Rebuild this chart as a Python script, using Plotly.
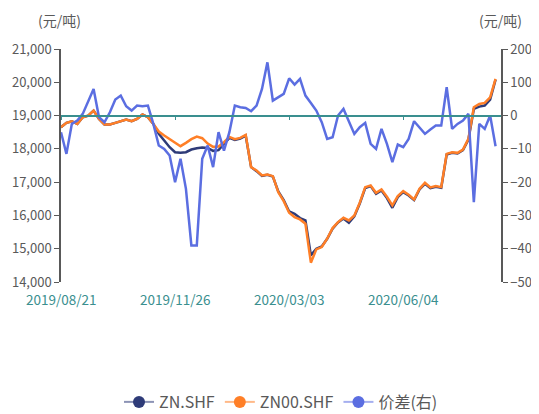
import pandas as pd
import plotly.graph_objects as go

# ---------------- data ----------------
holidays = ['2019-09-13', '2019-10-01', '2019-10-02', '2019-10-03', '2019-10-04', '2019-10-07',
            '2020-01-01', '2020-01-24', '2020-01-27', '2020-01-28', '2020-01-29', '2020-01-30',
            '2020-01-31', '2020-04-06', '2020-05-01', '2020-05-04', '2020-05-05',
            '2020-06-25', '2020-06-26']
trading_days = pd.bdate_range('2019-08-21', periods=241, freq='C', holidays=holidays)
dates = [d.strftime('%Y/%m/%d') for d in trading_days[::3]]

tick_labels = ['2019/08/21', '2019/11/26', '2020/03/03', '2020/06/04']

zn00_shf = [18650, 18780, 18830, 18750, 18950, 19000, 19150, 18900, 18730, 18730,
            18780, 18830, 18880, 18830, 18900, 19030, 18950, 18750, 18520, 18400,
            18290, 18180, 18080, 18180, 18290, 18370, 18320, 18160, 18060, 18070,
            18200, 18360, 18290, 18330, 18420, 17450, 17350, 17200, 17230, 17180,
            16700, 16430, 16080, 15950, 15880, 15750, 14580, 14980, 15050, 15300,
            15620, 15800, 15930, 15850, 16000, 16380, 16850, 16900, 16680, 16780,
            16560, 16300, 16580, 16730, 16620, 16480, 16800, 16980, 16840, 16880,
            16850, 17850, 17900, 17880, 17980, 18300, 19250, 19350, 19380, 19550,
            20100]

zn_shf = [18650, 18780, 18830, 18750, 18950, 19000, 19150, 18900, 18730, 18730,
          18780, 18830, 18880, 18830, 18900, 19030, 18950, 18750, 18450, 18250,
          18050, 17900, 17880, 17900, 17980, 18020, 18040, 18030, 17940, 17960,
          18150, 18330, 18270, 18310, 18400, 17450, 17330, 17190, 17220, 17170,
          16720, 16460, 16120, 16050, 15920, 15850, 14800, 15000, 15070, 15300,
          15600, 15790, 15910, 15780, 15970, 16360, 16820, 16880, 16650, 16750,
          16520, 16230, 16550, 16700, 16600, 16460, 16780, 16950, 16820, 16860,
          16830, 17830, 17880, 17860, 17960, 18280, 19200, 19270, 19300, 19480,
          20080]

spread = [-50, -115, -25, -15, 5, 40, 80, -5, -20, 10,
          48, 60, 28, 15, 30, 28, 30, -25, -90, -100,
          -120, -200, -130, -220, -390, -390, -130, -90, -155, -50,
          -105, -50, 30, 25, 23, 13, 30, 80, 160, 45,
          55, 65, 112, 93, 110, 60, 38, 15, -20, -70,
          -65, 0, 20, -20, -55, -35, -22, -85, -100, -40,
          -85, -140, -87, -95, -70, -17, -35, -55, -42, -30,
          -30, 85, -40, -25, -15, 5, -260, -25, -40, 0,
          -92]

left_range = [14000, 21000]
right_range = [-500, 200]

# ---------------- styles ----------------
C_ZN = '#2E3B78'
C_ZN00 = '#FF7F27'
C_SPREAD = '#5B6EE1'
LEG_LINES = ['rgba(46,59,120,0.55)', 'rgba(255,127,39,0.55)', 'rgba(91,110,225,0.55)']
AXIS_GREY = '#595959'
TEAL = '#3A8F8F'
FONT = 'Noto Sans CJK SC, Noto Sans, sans-serif'

fig = go.Figure()
fig.add_trace(go.Scatter(x=dates, y=zn_shf, mode='lines', name='ZN.SHF',
                         line=dict(color=C_ZN, width=2.5), showlegend=False))
fig.add_trace(go.Scatter(x=dates, y=zn00_shf, mode='lines', name='ZN00.SHF',
                         line=dict(color=C_ZN00, width=2.5), showlegend=False))
fig.add_trace(go.Scatter(x=dates, y=spread, mode='lines', name='价差(右)', yaxis='y2',
                         line=dict(color=C_SPREAD, width=2.5), showlegend=False))

# legend entries (line + dot symbol)
for name, col, lcol in zip(['ZN.SHF', 'ZN00.SHF', '价差(右)'], [C_ZN, C_ZN00, C_SPREAD], LEG_LINES):
    fig.add_trace(go.Scatter(x=[None], y=[None], mode='lines+markers', name=name,
                             line=dict(color=lcol, width=2),
                             marker=dict(color=col, size=12)))

zero_pos = (0 - right_range[0]) / (right_range[1] - right_range[0])

annotations = []
for lbl in tick_labels:
    annotations.append(dict(x=dates.index(lbl), xref='x', y=-0.071, yref='paper',
                            text=lbl, showarrow=False, xanchor='center', yanchor='middle',
                            font=dict(size=13.5, color=TEAL, family=FONT)))
annotations.append(dict(x=-0.004, xref='paper', y=1.124, yref='paper', text='(元/吨)',
                        showarrow=False, xanchor='center', yanchor='middle',
                        font=dict(size=14, color=AXIS_GREY, family=FONT)))
annotations.append(dict(x=0.998, xref='paper', y=1.124, yref='paper', text='(元/吨)',
                        showarrow=False, xanchor='center', yanchor='middle',
                        font=dict(size=14, color=AXIS_GREY, family=FONT)))

fig.update_layout(
    width=531, height=406,
    margin=dict(l=53, r=38, t=41, b=131.5, autoexpand=False),
    paper_bgcolor='white', plot_bgcolor='white',
    font=dict(family=FONT, color=AXIS_GREY, size=13),
    xaxis=dict(type='category', range=[0, len(dates)], anchor='free', position=zero_pos,
               showline=True, linecolor=TEAL, linewidth=1.5,
               ticks='outside', ticklen=4, tickcolor=TEAL, tickwidth=1,
               tickmode='array', tickvals=tick_labels, showticklabels=False,
               showgrid=False, zeroline=False),
    yaxis=dict(range=left_range, dtick=1000, tickformat=',', showline=True,
               linecolor=AXIS_GREY, linewidth=1.5, ticks='outside', ticklen=5,
               tickcolor=AXIS_GREY, showgrid=False, zeroline=False,
               tickfont=dict(size=13, color=AXIS_GREY)),
    yaxis2=dict(range=right_range, dtick=100, overlaying='y', side='right', anchor='x',
                showline=True, linecolor=AXIS_GREY, linewidth=1.5, ticks='outside',
                ticklen=5, tickcolor=AXIS_GREY, showgrid=False, zeroline=False,
                tickfont=dict(size=13, color=AXIS_GREY)),
    legend=dict(orientation='h', x=0.5, xanchor='center', xref='paper',
                y=0.0296, yanchor='middle', yref='container',
                font=dict(size=16, color=AXIS_GREY), itemwidth=30,
                bgcolor='rgba(0,0,0,0)'),
    annotations=annotations,
)

fig.write_html('out.html')
